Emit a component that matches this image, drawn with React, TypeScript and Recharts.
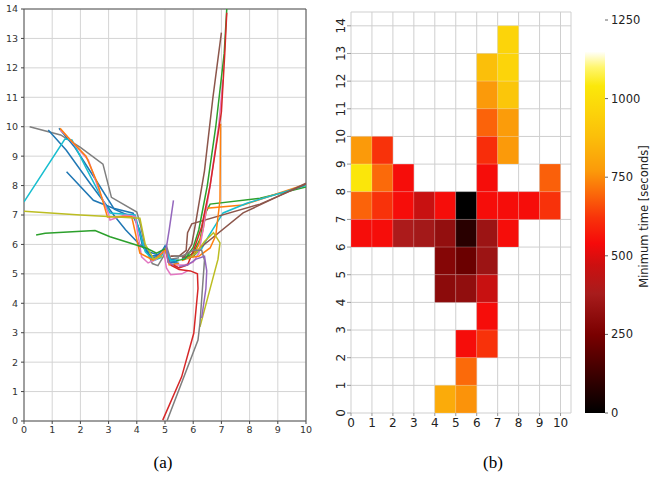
import React from 'react';
import {
  LineChart,
  Line,
  XAxis,
  YAxis,
  CartesianGrid,
  ReferenceArea,
  ScatterChart,
  Scatter,
  BarChart,
  Bar,
} from 'recharts';

const FONT = '"DejaVu Sans", sans-serif';

const ticksX = [0, 1, 2, 3, 4, 5, 6, 7, 8, 9, 10];
const ticksY = [0, 1, 2, 3, 4, 5, 6, 7, 8, 9, 10, 11, 12, 13, 14];
const barTicks = [0, 250, 500, 750, 1000, 1250];

// (a) trajectories, [x, y] in metres
const grayLeft = [[0.2, 10.0], [1.3, 9.72], [2.0, 9.3], [2.8, 8.73], [3.1, 7.6], [4.0, 7.1], [4.12, 6.7], [4.3, 5.9], [4.55, 5.35], [4.75, 5.28], [4.95, 5.6], [5.05, 5.95], [5.2, 5.5], [5.5, 5.55]];
const blueA = [[0.86, 9.89], [1.5, 9.2], [2.34, 8.08], [3.23, 6.94], [3.6, 6.5], [4.1, 6.0], [4.4, 5.75], [4.75, 5.65], [5.0, 5.9], [5.15, 5.5], [5.5, 5.45]];
const blueB = [[1.24, 9.95], [1.8, 9.3], [2.7, 7.96], [3.2, 7.2], [3.9, 6.9], [4.1, 6.5], [4.25, 5.9], [4.5, 5.6], [4.8, 5.65], [5.0, 5.85], [5.15, 5.4], [5.5, 5.35]];
const blueC = [[1.51, 8.47], [2.46, 7.5], [3.17, 7.23], [3.87, 7.06], [4.05, 6.6], [4.2, 5.95], [4.5, 5.55], [4.8, 5.6], [5.0, 5.95], [5.15, 5.45], [5.45, 5.4]];
const pinkLeft = [[1.28, 9.89], [1.5, 9.7], [2.28, 8.87], [2.7, 7.74], [2.99, 7.06], [3.05, 6.83], [3.58, 7.0], [3.94, 6.95], [4.17, 5.58], [4.4, 5.37], [4.7, 5.5], [4.95, 5.8], [5.05, 5.2], [5.2, 4.97], [5.6, 5.0], [5.8, 5.1]];
const orangeLeft = [[1.28, 9.95], [1.55, 9.65], [2.2, 9.0], [2.6, 8.1], [2.96, 6.93], [3.4, 6.95], [3.82, 6.94], [4.11, 5.7], [4.58, 5.47], [4.9, 5.7], [5.0, 5.85], [5.15, 5.3], [5.5, 5.35]];
const cyanLeft = [[0, 7.45], [1.45, 9.58], [1.7, 9.55], [2.2, 8.6], [2.8, 7.5], [3.05, 7.07], [3.94, 7.0], [4.1, 6.4], [4.3, 5.75], [4.6, 5.45], [4.85, 5.55], [5.0, 5.85], [5.2, 5.45], [5.5, 5.45]];
const oliveLeft = [[0, 7.13], [2.0, 7.0], [4.11, 6.89], [4.3, 6.0], [4.6, 5.5], [4.9, 5.6]];
const greenLeft = [[0.43, 6.32], [0.75, 6.38], [2.52, 6.47], [3.05, 6.26], [4.35, 5.87], [4.7, 5.7], [5.0, 5.85]];
const greenTop = [[7.19, 14.0], [7.1, 12.5], [6.8, 10.0], [6.5, 8.0], [6.2, 6.5], [6.0, 5.9], [5.7, 5.5], [5.4, 5.45]];
const redTop = [[7.19, 13.87], [7.12, 12.5], [7.0, 10.5], [6.6, 8.0], [6.3, 6.6], [6.05, 5.9], [5.8, 5.3], [5.5, 5.2], [5.3, 5.3]];
const brownTop = [[7.0, 13.2], [6.7, 11.0], [6.4, 8.5], [6.1, 6.8], [5.95, 6.0], [5.7, 5.6], [5.4, 5.6], [5.2, 5.6]];
const pinkTop = [[7.06, 11.6], [6.9, 10.0], [6.6, 8.0], [6.35, 6.5], [6.2, 5.7], [6.0, 5.4], [5.7, 5.3], [5.4, 5.3]];
const orangeTop = [[6.97, 10.1], [6.95, 7.5], [6.8, 6.3], [6.6, 5.88], [6.2, 5.6], [5.8, 5.55]];
const greenRight = [[10, 7.95], [8.37, 7.57], [6.6, 7.37], [6.4, 7.0], [6.25, 6.2], [6.0, 5.7], [5.6, 5.5]];
const orangeRight = [[10, 8.05], [7.77, 7.34], [6.48, 7.23], [6.35, 6.5], [6.2, 6.0], [6.0, 5.6], [5.6, 5.45]];
const cyanRight = [[10, 8.0], [7.9, 7.4], [7.06, 7.07], [6.53, 6.26], [6.3, 5.85], [6.0, 5.6], [5.6, 5.5]];
const brownRightA = [[10, 8.05], [8.37, 7.37], [5.95, 6.7], [5.8, 6.4], [5.75, 5.8], [5.5, 5.6], [5.2, 5.6]];
const brownRightB = [[10, 8.08], [7.77, 7.07], [6.24, 5.88], [6.0, 5.6], [5.6, 5.55]];
const redBottom = [[4.92, 0.03], [5.59, 1.5], [6.02, 2.98], [6.17, 4.5], [6.15, 5.0], [5.9, 5.1], [5.5, 5.15], [5.2, 5.3]];
const grayBottom = [[5.07, 0], [6.17, 2.75], [6.24, 3.33], [6.4, 5.47], [6.3, 5.8], [6.0, 5.8], [5.6, 5.6], [5.3, 5.6]];
const oliveBottom = [[6.24, 3.2], [6.6, 4.5], [6.88, 5.5], [6.95, 6.05], [6.72, 6.4], [6.4, 6.1], [6.1, 5.7], [5.8, 5.5]];
const purpleShort = [[5.3, 7.5], [5.15, 6.5], [5.05, 5.9], [5.1, 5.4], [5.3, 5.3]];
const purpleBottom = [[6.3, 3.5], [6.45, 4.5], [6.48, 5.1], [6.4, 5.6], [6.1, 5.5], [5.8, 5.3], [5.5, 5.25]];

const trajectories: [number[][], string][] = [
  [grayLeft, '#7f7f7f'],
  [blueA, '#1f77b4'],
  [blueB, '#1f77b4'],
  [blueC, '#1f77b4'],
  [cyanLeft, '#17becf'],
  [pinkLeft, '#e377c2'],
  [orangeLeft, '#ff7f0e'],
  [oliveLeft, '#bcbd22'],
  [greenLeft, '#2ca02c'],
  [greenRight, '#2ca02c'],
  [orangeRight, '#ff7f0e'],
  [cyanRight, '#17becf'],
  [brownRightA, '#8c564b'],
  [brownRightB, '#8c564b'],
  [brownTop, '#8c564b'],
  [pinkTop, '#e377c2'],
  [orangeTop, '#ff7f0e'],
  [greenTop, '#2ca02c'],
  [redTop, '#d62728'],
  [oliveBottom, '#bcbd22'],
  [grayBottom, '#7f7f7f'],
  [redBottom, '#d62728'],
  [purpleBottom, '#9467bd'],
  [purpleShort, '#9467bd'],
];

// (b) minimum time per cell (lower-left corner of the cell)
const cellX = [7, 6, 7, 6, 7, 6, 7, 0, 1, 6, 7, 0, 1, 2, 6, 9, 0, 1, 2, 3, 4, 5, 6, 7, 8, 9, 0, 1, 2, 3, 4, 5, 6, 7, 4, 5, 6, 4, 5, 6, 6, 5, 6, 5, 4, 5];
const cellY = [13, 12, 12, 11, 11, 10, 10, 9, 9, 9, 9, 8, 8, 8, 8, 8, 7, 7, 7, 7, 7, 7, 7, 7, 7, 7, 6, 6, 6, 6, 6, 6, 6, 6, 5, 5, 5, 4, 4, 4, 3, 2, 2, 1, 0, 0];
const cellTime = [960, 880, 960, 770, 905, 690, 775, 770, 620, 610, 770, 1030, 700, 545, 545, 685, 690, 620, 545, 460, 545, 0, 545, 545, 545, 620, 545, 545, 390, 365, 320, 85, 345, 545, 280, 220, 345, 300, 315, 460, 545, 545, 620, 700, 820, 760];

const colorbarMax = 1150;

const hotStops: [number, number[]][] = [
  [0, [0, 0, 0]],
  [120, [58, 0, 0]],
  [250, [122, 0, 0]],
  [380, [168, 28, 28]],
  [470, [204, 16, 16]],
  [540, [246, 10, 10]],
  [620, [248, 50, 10]],
  [700, [251, 106, 10]],
  [770, [251, 154, 10]],
  [880, [251, 191, 10]],
  [960, [252, 212, 10]],
  [1040, [251, 232, 10]],
  [1100, [255, 246, 110]],
  [1150, [255, 255, 255]],
];

const hot = (v: number) => {
  for (let i = 1; i < hotStops.length; i++) {
    const [v1, c1] = hotStops[i];
    const [v0, c0] = hotStops[i - 1];
    if (v <= v1) {
      const t = (v - v0) / (v1 - v0);
      const c = c0.map((a, k) => Math.round(a + (c1[k] - a) * t));
      return `rgb(${c[0]},${c[1]},${c[2]})`;
    }
  }
  return '#ffffff';
};

const cells = cellTime.map((t, i) => ({ x: cellX[i] + 0.5, y: cellY[i] + 0.5, t }));

const RotatedTick = (props: any) => {
  const { x, y, payload } = props;
  return (
    <text
      x={x}
      y={y}
      transform={`rotate(-90 ${x} ${y})`}
      textAnchor="middle"
      fontFamily={FONT}
      fontSize={12}
      fill="#222"
    >
      {payload.value}
    </text>
  );
};

const App = () => {
  return (
    <div style={{ position: 'absolute', left: 0, top: 0, width: 653, height: 477, background: '#fff' }}>
      <svg width={1} height={1} style={{ position: 'absolute', left: 0, top: 0 }}>
        <defs>
          <linearGradient id="hotGrad" x1="0" y1="0" x2="0" y2="1">
            {[...hotStops].reverse().map(([v, c]) => (
              <stop key={v} offset={1 - v / colorbarMax} stopColor={`rgb(${c[0]},${c[1]},${c[2]})`} />
            ))}
          </linearGradient>
        </defs>
      </svg>

      {/* (a) */}
      <div style={{ position: 'absolute', left: 0, top: 0 }}>
        <LineChart width={320} height={440} margin={{ top: 9, right: 14, bottom: 0, left: 0 }}>
          <CartesianGrid stroke="#d4d4d4" strokeWidth={1} />
          <XAxis
            type="number"
            dataKey="x"
            domain={[0, 10]}
            ticks={ticksX}
            allowDataOverflow
            height={19}
            axisLine={false}
            tickSize={3}
            tickMargin={2}
            tickLine={{ stroke: '#444' }}
            tick={{ fontSize: 9.5, fill: '#333', fontFamily: FONT }}
          />
          <YAxis
            type="number"
            dataKey="y"
            domain={[0, 14]}
            ticks={ticksY}
            allowDataOverflow
            width={24}
            axisLine={false}
            tickSize={3}
            tickMargin={3}
            tickLine={{ stroke: '#444' }}
            tick={{ fontSize: 9.5, fill: '#333', fontFamily: FONT }}
          />
          <ReferenceArea x1={0} x2={10} y1={0} y2={14} fill="none" stroke="#555" strokeWidth={1} />
          {trajectories.map(([pts, color], i) => (
            <Line
              key={i}
              data={pts.map(([x, y]) => ({ x, y }))}
              dataKey="y"
              type="linear"
              stroke={color}
              strokeWidth={1.5}
              dot={false}
              isAnimationActive={false}
            />
          ))}
        </LineChart>
      </div>

      {/* (b) */}
      <div style={{ position: 'absolute', left: 320, top: 0 }}>
        <ScatterChart width={265} height={440} margin={{ top: 12, right: 14, bottom: 0, left: 0 }}>
          <CartesianGrid stroke="#cfcfcf" strokeWidth={1} />
          <XAxis
            type="number"
            dataKey="x"
            domain={[0, 10.5]}
            ticks={ticksX}
            allowDataOverflow
            height={27}
            axisLine={false}
            tickSize={3}
            tickMargin={2}
            tickLine={{ stroke: '#999' }}
            tick={{ fontSize: 12, fill: '#222', fontFamily: FONT }}
          />
          <YAxis
            type="number"
            dataKey="y"
            domain={[0, 14.5]}
            ticks={ticksY}
            allowDataOverflow
            width={31}
            axisLine={false}
            tickSize={4}
            tickMargin={2}
            tickLine={{ stroke: '#999' }}
            tick={<RotatedTick />}
          />
          {cells.map((c, i) => (
            <ReferenceArea
              key={i}
              x1={c.x - 0.5}
              x2={c.x + 0.5}
              y1={c.y - 0.5}
              y2={c.y + 0.5}
              fill={hot(c.t)}
              fillOpacity={1}
              stroke="#ffffff"
              strokeOpacity={0.25}
              strokeWidth={0.6}
            />
          ))}
          <Scatter data={cells} fill="none" shape={() => <g />} isAnimationActive={false} />
        </ScatterChart>
      </div>

      {/* colorbar */}
      <div style={{ position: 'absolute', left: 575, top: 0 }}>
        <BarChart
          width={78}
          height={440}
          data={[{ name: 'scale', v: colorbarMax }]}
          margin={{ top: 20, right: 0, bottom: 27, left: 10 }}
          barCategoryGap={0}
        >
          <XAxis dataKey="name" hide />
          <YAxis
            orientation="right"
            type="number"
            domain={[0, 1250]}
            ticks={barTicks}
            width={48}
            axisLine={false}
            tickSize={3}
            tickMargin={3}
            tickLine={{ stroke: '#666' }}
            tick={{ fontSize: 11.5, fill: '#222', fontFamily: FONT }}
            label={({ viewBox }: any) => {
              const lx = viewBox.x + 43;
              const ly = viewBox.y + viewBox.height / 2;
              return (
                <text
                  x={lx}
                  y={ly}
                  transform={`rotate(-90 ${lx} ${ly})`}
                  textAnchor="middle"
                  fontFamily={FONT}
                  fontSize={11.5}
                  fill="#222"
                >
                  Minimum time [seconds]
                </text>
              );
            }}
          />
          <Bar dataKey="v" fill="url(#hotGrad)" isAnimationActive={false} />
        </BarChart>
      </div>

      <div style={{ position: 'absolute', left: 133, top: 453, width: 60, textAlign: 'center', fontFamily: '"Liberation Serif", serif', fontSize: 17, lineHeight: '20px' }}>
        (a)
      </div>
      <div style={{ position: 'absolute', left: 463, top: 453, width: 60, textAlign: 'center', fontFamily: '"Liberation Serif", serif', fontSize: 17, lineHeight: '20px' }}>
        (b)
      </div>
    </div>
  );
};

export default App;
